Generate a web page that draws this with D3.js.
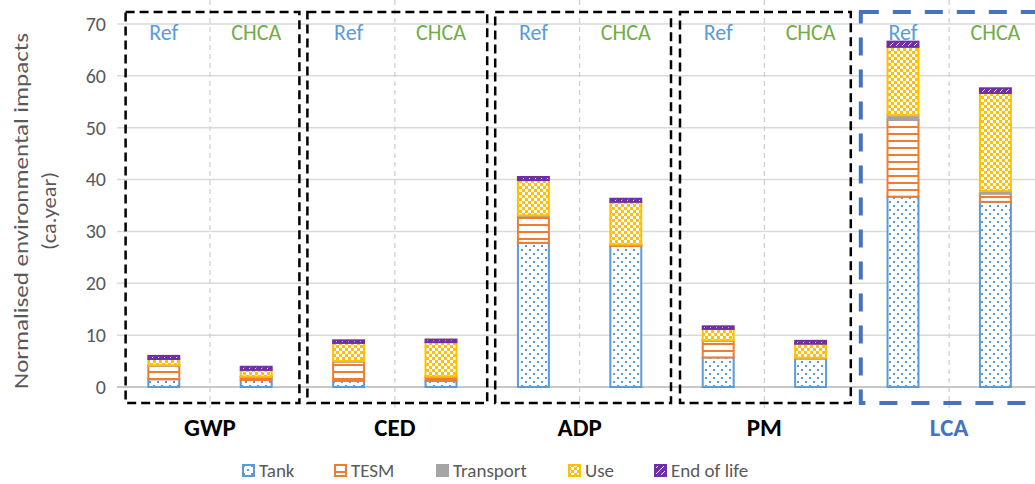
<!DOCTYPE html>
<html><head><meta charset="utf-8">
<script src="https://cdn.jsdelivr.net/npm/d3@7"></script>
<style>
html,body{margin:0;padding:0;background:#fff;}
svg{display:block;font-family:Carlito, Lato, "Liberation Sans", sans-serif;}
</style></head>
<body>
<svg id="chart" width="1035" height="484"></svg>
<script>
// ---------- data ----------
const groups = ["GWP", "CED", "ADP", "PM", "LCA"];
const scenarios = ["Ref", "CHCA"];
const seriesNames = ["Tank", "TESM", "Transport", "Use", "End of life"];
const tank      = [1.5, 1.35, 1.2, 1.2, 27.8, 27.2, 5.7, 5.5, 36.7, 35.7];
const tesm      = [2.6, 0.6, 3.7, 0.8, 5.2, 0.2, 3.2, 0.1, 14.8, 1.6];
const transport = [0.1, 0.05, 0.1, 0.05, 0.1, 0.1, 0.1, 0.05, 0.9, 0.5];
const use       = [1.2, 1.3, 3.5, 6.6, 6.8, 8.2, 2.2, 2.7, 13.2, 18.9];
const endOfLife = [0.6, 0.6, 0.5, 0.5, 0.6, 0.6, 0.5, 0.55, 1.0, 0.9];
const yTicks = [0, 10, 20, 30, 40, 50, 60, 70];

// ---------- styles ----------
const colors = {"Tank":"#5B9BD5","TESM":"#ED7D31","Transport":"#A5A5A5","Use":"#FFC000","End of life":"#7030A0"};
const fills = {"Tank":"url(#pTank)","TESM":"url(#pTesm)","Transport":"#A5A5A5","Use":"url(#pUse)","End of life":"url(#pEol)"};

const svg = d3.select("#chart");
const defs = svg.append("defs");
// Tank: dots
let p = defs.append("pattern").attr("id","pTank").attr("patternUnits","userSpaceOnUse").attr("width",8).attr("height",8);
p.append("rect").attr("width",8).attr("height",8).attr("fill","#fff");
p.append("rect").attr("x",1).attr("y",1).attr("width",2).attr("height",2).attr("fill","#5B9BD5");
p.append("rect").attr("x",5).attr("y",5).attr("width",2).attr("height",2).attr("fill","#5B9BD5");
// TESM: horizontal lines
p = defs.append("pattern").attr("id","pTesm").attr("patternUnits","userSpaceOnUse").attr("width",8).attr("height",7);
p.append("rect").attr("width",8).attr("height",7).attr("fill","#fff");
p.append("rect").attr("y",0).attr("width",8).attr("height",2).attr("fill","#ED7D31");
// Use: checkerboard
p = defs.append("pattern").attr("id","pUse").attr("patternUnits","userSpaceOnUse").attr("width",6).attr("height",6);
p.append("rect").attr("width",6).attr("height",6).attr("fill","#FFC000");
p.append("rect").attr("x",0).attr("y",0).attr("width",3).attr("height",3).attr("fill","#fff");
p.append("rect").attr("x",3).attr("y",3).attr("width",3).attr("height",3).attr("fill","#fff");
// EoL: purple with white dashes
p = defs.append("pattern").attr("id","pEol").attr("patternUnits","userSpaceOnUse").attr("width",6).attr("height",6);
p.append("rect").attr("width",6).attr("height",6).attr("fill","#7030A0");
p.append("path").attr("d","M0,6 L6,0").attr("stroke","#fff").attr("stroke-width",1);

// ---------- data table ----------
const keys = [];
groups.forEach(g => scenarios.forEach(s => keys.push(g + "|" + s)));
const table = keys.map((k, i) => ({
  key: k, "Tank": tank[i], "TESM": tesm[i], "Transport": transport[i], "Use": use[i], "End of life": endOfLife[i]
}));
const stacked = d3.stack().keys(seriesNames)(table);

// ---------- scales ----------
const x = d3.scaleBand().domain(keys).range([117.6, 1041.6]).padding(0);
const y = d3.scaleLinear().domain([0, 70]).range([387, 24]);
const barW = x.bandwidth() * 0.335;

// gridlines
svg.append("g").selectAll("line").data(yTicks).join("line")
  .attr("x1", 117).attr("x2", 1035)
  .attr("y1", d => y(d)).attr("y2", d => y(d))
  .attr("stroke", d => d === 0 ? "#c8c8c8" : "#d9d9d9")
  .attr("stroke-width", d => d === 0 ? 2 : 1.5);

// y axis labels
const yAxis = d3.axisLeft(y).tickValues(yTicks).tickSize(0).tickPadding(0);
const ga = svg.append("g").attr("transform", "translate(106,0)").call(yAxis);
ga.select(".domain").remove();
ga.selectAll("text").attr("fill", "#595959").style("font-size", "20px").style("font-family", "Carlito, Lato, sans-serif");

// y title
const yt = svg.append("text").attr("transform", "translate(36,211) rotate(-90)")
  .attr("text-anchor", "middle").attr("fill", "#595959").style("font-size", "21px");
yt.append("tspan").attr("x", 0).attr("dy", "-0.4em").attr("textLength", 356).attr("lengthAdjust", "spacingAndGlyphs")
  .text("Normalised environmental impacts");
yt.append("tspan").attr("x", 0).attr("dy", "1.35em").attr("textLength", 78).attr("lengthAdjust", "spacingAndGlyphs")
  .text("(ca.year)");

// Ref/CHCA separators
svg.append("g").selectAll("line").data(groups).join("line")
  .attr("x1", g => x(g + "|CHCA")).attr("x2", g => x(g + "|CHCA"))
  .attr("y1", 0).attr("y2", 408)
  .attr("stroke", "#cfcfcf").attr("stroke-width", 1.2).attr("stroke-dasharray", "5,4");

// bars
const layer = svg.append("g").selectAll("g").data(stacked).join("g");
layer.selectAll("rect").data(d => d.map(v => ({v, name: d.key}))).join("rect")
  .attr("x", d => x(d.v.data.key) + (x.bandwidth() - barW) / 2)
  .attr("y", d => y(d.v[1]))
  .attr("width", barW)
  .attr("height", d => Math.max(0, y(d.v[0]) - y(d.v[1])))
  .attr("fill", d => fills[d.name])
  .attr("stroke", d => colors[d.name])
  .attr("stroke-width", 2);

// scenario labels
svg.append("g").selectAll("text").data(keys).join("text")
  .attr("x", k => x(k) + x.bandwidth() / 2).attr("y", 40)
  .attr("text-anchor", "middle")
  .attr("fill", k => k.endsWith("Ref") ? "#5B9BD5" : "#70AD47")
  .style("font-size", "22px")
  .text(k => k.split("|")[1]);

// group boxes
const boxPad = {"GWP":[8,3],"CED":[5,0],"ADP":[8,1],"PM":[8,6],"LCA":[4,-10]};
svg.append("g").selectAll("rect").data(groups).join("rect")
  .attr("x", g => x(g + "|Ref") + boxPad[g][0])
  .attr("y", 12)
  .attr("width", g => x(g + "|CHCA") + x.bandwidth() - boxPad[g][1] - (x(g + "|Ref") + boxPad[g][0]))
  .attr("height", 391)
  .attr("fill", "none")
  .attr("stroke", g => g === "LCA" ? "#4472C4" : "#000")
  .attr("stroke-width", g => g === "LCA" ? 4 : 2.5)
  .attr("stroke-dasharray", g => g === "LCA" ? "18,14" : "9,5");

// group labels
svg.append("g").selectAll("text").data(groups).join("text")
  .attr("x", g => x(g + "|CHCA"))
  .attr("y", 436)
  .attr("text-anchor", "middle")
  .attr("fill", g => g === "LCA" ? "#4472C4" : "#000")
  .style("font-size", "25px").style("font-weight", "bold")
  .text(g => g);

// legend
const legendX = [242, 334, 436, 568, 654];
const lg = svg.append("g").selectAll("g").data(seriesNames).join("g")
  .attr("transform", (d, i) => `translate(${legendX[i]},464)`);
lg.append("rect").attr("x", 1).attr("y", 1).attr("width", 11).attr("height", 11)
  .attr("fill", d => fills[d]).attr("stroke", d => colors[d]).attr("stroke-width", 2);
lg.append("text").attr("x", 17).attr("y", 13).attr("fill", "#595959").style("font-size", "19px").text(d => d);
</script>
</body></html>
